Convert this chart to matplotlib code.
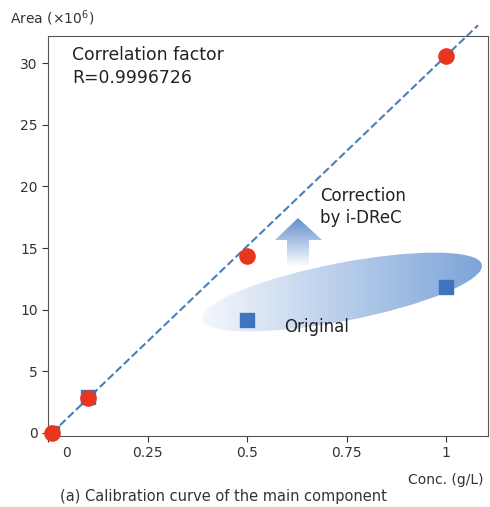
import numpy as np
import matplotlib
matplotlib.use("Agg")
import matplotlib.pyplot as plt
from matplotlib.patches import Ellipse, Polygon
from matplotlib.transforms import IdentityTransform, ScaledTranslation

conc = [0.01, 0.1, 0.5, 1.0]
area_corr = [0.0, 2.8, 14.35, 30.6]
area_orig = [0.0, 2.9, 9.2, 11.8]
fit_x = [0.01, 1.08]
slope, icpt = 30.9, -0.3

fig = plt.figure(figsize=(4.9, 5.07), dpi=100)
ax = fig.add_axes([0.098, 0.140, 0.898, 0.789])
xlim, ylim = (0, 1.105), (-0.25, 32.2)
for s in ax.spines.values():
    s.set_color("#555555")
ax.set_xticks([0, 0.25, 0.5, 0.75, 1])
ax.set_xticklabels(["0", "0.25", "0.5", "0.75", "1"])
ax.set_yticks([0, 5, 10, 15, 20, 25, 30])
ax.tick_params(labelsize=10, colors="#333333", direction="out", length=4)
lab0 = ax.get_xticklabels()[0]
lab0.set_transform(lab0.get_transform() + ScaledTranslation(0.18, 0, fig.dpi_scale_trans))

fx = np.array(fit_x)
ax.plot(fx, slope * fx + icpt, ls="--", color="#4a7fb5", lw=1.5, zorder=2, clip_on=False)

# gradient ellipse
ell = Ellipse((342, 215), 285, 58, angle=11, transform=IdentityTransform(),
              facecolor="none", edgecolor="none")
ax.add_patch(ell)
grad = np.linspace(0, 1, 256).reshape(1, -1)
cm = matplotlib.colors.LinearSegmentedColormap.from_list("e", ["#f5f8fd", "#7aa3d8"])
im = ax.imshow(grad, extent=[0.38, 1.105, 4, 16], aspect="auto", cmap=cm, zorder=1)
im.set_clip_path(ell)

# gradient arrow
arr = Polygon([(287, 242), (287, 267), (275, 267), (298, 289), (322, 267), (309, 267), (309, 242)],
              closed=True, transform=IdentityTransform(), facecolor="none", edgecolor="none")
ax.add_patch(arr)
cm2 = matplotlib.colors.LinearSegmentedColormap.from_list("a", ["#ffffff", "#4d80c4"])
im2 = ax.imshow(np.linspace(0, 1, 256).reshape(-1, 1), origin="lower",
                extent=[0.5, 0.8, 13.5, 17.9], aspect="auto", cmap=cm2, zorder=1)
im2.set_clip_path(arr)
ax.set_xlim(*xlim)
ax.set_ylim(*ylim)

ax.scatter(conc, area_orig, marker="s", s=110, color="#3f73bd", zorder=3)
ax.scatter(conc, area_corr, marker="o", s=120, color="#e8361e", zorder=4, clip_on=False)

fig.text(72 / 490, 1 - 46 / 507, "Correlation factor\nR=0.9996726",
         fontsize=12.4, va="top", color="#222222", linespacing=1.35)
fig.text(320 / 490, 1 - 187 / 507, "Correction\nby i-DReC", fontsize=12, va="top", color="#222222",
         linespacing=1.3)
fig.text(284 / 490, 1 - 327 / 507, "Original", fontsize=12, va="center", color="#222222")
fig.text(10 / 490, 1 - 18 / 507, "Area (×10$^6$)", fontsize=10, va="center", color="#333333")
fig.text(408 / 490, 1 - 480 / 507, "Conc. (g/L)", fontsize=10, va="center", color="#333333")
fig.text(60 / 490, 1 - 497 / 507, "(a) Calibration curve of the main component",
         fontsize=10.5, va="center", color="#333333")

fig.savefig("out.png", dpi=100)
